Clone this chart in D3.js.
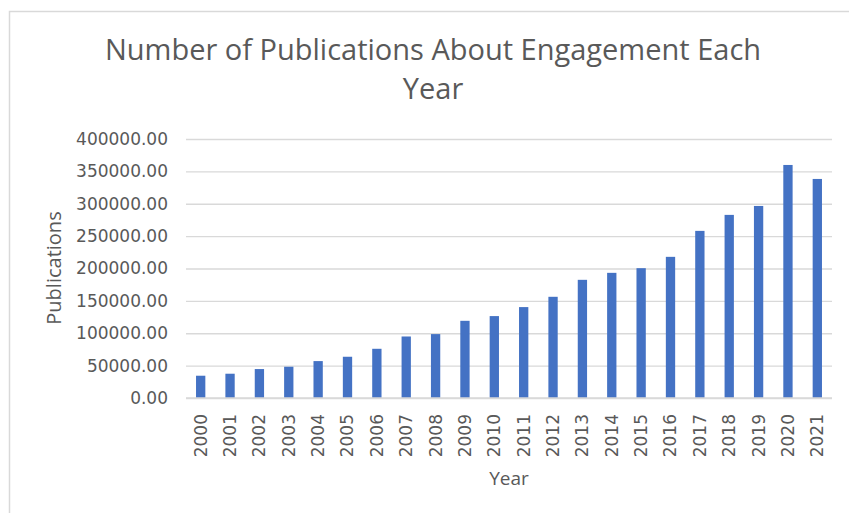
<!DOCTYPE html>
<html>
<head>
<meta charset="utf-8">
<script src="https://cdn.jsdelivr.net/npm/d3@7"></script>
<style>
  html, body { margin: 0; padding: 0; background: #fff; }
  svg { display: block; }
</style>
</head>
<body>
<svg id="chart" width="849" height="513"></svg>
<script>
// Yearly publication counts
const years = ["2000","2001","2002","2003","2004","2005","2006","2007","2008","2009","2010",
               "2011","2012","2013","2014","2015","2016","2017","2018","2019","2020","2021"];
const publications = [34400, 37500, 44700, 48300, 57000, 63700, 76000, 95000, 98700, 119200, 126500,
                      140400, 156300, 182500, 193300, 200500, 218000, 258100, 282800, 296600, 359900, 338300];
const yTicks = [0, 50000, 100000, 150000, 200000, 250000, 300000, 350000, 400000];
const titleLines = ["Number of Publications About Engagement Each", "Year"];
const xTitle = "Year";
const yTitle = "Publications";

const W = 849, H = 513;
const plot = { left: 186, right: 832, top: 139, bottom: 398 };
const textColor = "#595959";
const gridColor = "#d9d9d9";
const barColor = "#4472c4";

const svg = d3.select("#chart");

// chart frame (top and left edges visible)
svg.append("path")
  .attr("d", `M9.5,${H} V11.5 H${W}`)
  .attr("fill", "none")
  .attr("stroke", "#d9d9d9")
  .attr("stroke-width", 1.5);

const x = d3.scaleBand()
  .domain(years)
  .range([plot.left, plot.right])
  .paddingInner(0.683)
  .paddingOuter(0.3415);

const y = d3.scaleLinear()
  .domain([0, 400000])
  .range([plot.bottom, plot.top]);

// gridlines + y tick labels
const yAxis = d3.axisLeft(y)
  .tickValues(yTicks)
  .tickFormat(d3.format(".2f"))
  .tickSize(-(plot.right - plot.left))
  .tickPadding(18);

const gy = svg.append("g")
  .attr("transform", `translate(${plot.left},0)`)
  .call(yAxis);
gy.select(".domain").remove();
gy.selectAll(".tick line")
  .attr("stroke", gridColor)
  .attr("stroke-width", 1.3);
gy.selectAll(".tick text")
  .attr("fill", textColor)
  .style("font-family", "'DejaVu Sans', sans-serif")
  .style("font-size", "17px");

// bars
svg.append("g")
  .selectAll("rect")
  .data(years.map((yr, i) => ({ yr, v: publications[i] })))
  .join("rect")
  .attr("x", d => x(d.yr))
  .attr("width", x.bandwidth())
  .attr("y", d => y(d.v))
  .attr("height", d => y(0) - y(d.v))
  .attr("fill", barColor);

// x axis (rotated year labels)
const xAxis = d3.axisBottom(x).tickSize(0).tickPadding(0);
const gx = svg.append("g")
  .attr("transform", `translate(0,${plot.bottom})`)
  .call(xAxis);
gx.select(".domain").remove();
gx.selectAll(".tick text")
  .attr("fill", textColor)
  .style("font-family", "'DejaVu Sans', sans-serif")
  .style("font-size", "17px")
  .attr("text-anchor", "end")
  .attr("dy", "0.35em")
  .attr("transform", "translate(0,16) rotate(-90)")
  .attr("x", 0)
  .attr("y", 0);

// baseline
svg.append("line")
  .attr("x1", plot.left).attr("x2", plot.right)
  .attr("y1", y(0)).attr("y2", y(0))
  .attr("stroke", gridColor)
  .attr("stroke-width", 1.3);

// title
const title = svg.append("text")
  .attr("text-anchor", "middle")
  .attr("fill", textColor)
  .style("font-family", "'Open Sans', sans-serif")
  .style("font-weight", 400)
  .style("font-size", "29px");
titleLines.forEach((t, i) => {
  title.append("tspan")
    .attr("x", 433)
    .attr("y", 60 + i * 39)
    .text(t);
});

// axis titles
svg.append("text")
  .attr("x", 509).attr("y", 485)
  .attr("text-anchor", "middle")
  .attr("fill", textColor)
  .style("font-family", "'Open Sans', sans-serif")
  .style("font-size", "19px")
  .text(xTitle);

svg.append("text")
  .attr("transform", "translate(61,268) rotate(-90)")
  .attr("text-anchor", "middle")
  .attr("fill", textColor)
  .style("font-family", "'Open Sans', sans-serif")
  .style("font-size", "20px")
  .text(yTitle);
</script>
</body>
</html>
